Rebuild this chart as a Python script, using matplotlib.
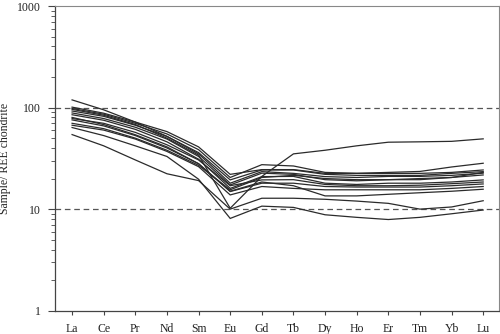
import matplotlib
matplotlib.use("Agg")
import matplotlib.pyplot as plt
from matplotlib.ticker import NullFormatter, FixedLocator

plt.rcParams['font.family'] = ['Liberation Serif', 'DejaVu Serif']

elements = ["La", "Ce", "Pr", "Nd", "Sm", "Eu", "Gd", "Tb", "Dy", "Ho", "Er", "Tm", "Yb", "Lu"]

# Chondrite-normalised REE patterns, one list per sample
s01 = [101, 88, 72, 58, 41, 22.0, 24.5, 24.5, 22.5, 22.5, 23.0, 23.5, 26.0, 28.3]
s02 = [98, 86, 70, 55, 38.5, 20.5, 27.4, 26.6, 23.0, 22.5, 22.5, 22.5, 23.0, 24.3]
s03 = [119, 95, 72, 52, 36, 19.4, 24.3, 24.3, 22.0, 21.5, 21.5, 21.5, 22.5, 23.4]
s04 = [92.5, 82, 67, 52, 35, 18.0, 23.4, 22.5, 20.9, 20.5, 21.0, 21.0, 21.5, 22.6]
s05 = [88.5, 78, 64, 49, 33, 17.3, 22.6, 22.0, 19.5, 19.0, 19.5, 20.0, 20.5, 21.7]
s06 = [85, 75, 61, 46, 31, 16.0, 20.9, 21.0, 18.0, 17.5, 18.0, 18.0, 18.5, 19.4]
s07 = [78, 70, 57, 43, 30.5, 17.0, 19.4, 19.5, 17.5, 17.0, 17.0, 17.2, 17.8, 18.5]
s08 = [75.6, 66, 53, 40, 28, 14.9, 18.0, 18.0, 16.7, 16.5, 16.5, 16.5, 17.0, 17.7]
s09 = [67, 60, 49, 37, 26.2, 13.8, 16.7, 16.0, 15.5, 15.5, 15.5, 15.5, 16.0, 16.7]
s10 = [80, 68, 54, 41, 28, 15.0, 18.5, 17.0, 13.5, 13.5, 14.0, 14.5, 15.0, 15.7]
s11 = [96, 84, 68, 50, 34, 10.2, 21.0, 35.0, 38.0, 42.0, 45.6, 46.0, 46.5, 49.2]
s12 = [54.2, 42, 30.5, 22.3, 19.1, 10.0, 12.8, 12.8, 12.5, 12.0, 11.4, 10.0, 10.5, 12.1]
s13 = [63.6, 53, 42, 33, 19.7, 8.1, 10.7, 10.4, 8.8, 8.3, 7.9, 8.3, 9.0, 9.8]
s14 = [70, 62, 50, 38, 27, 15.5, 20.5, 21.5, 20.0, 19.5, 19.5, 19.5, 20.5, 23.0]

samples = [s01, s02, s03, s04, s05, s06, s07, s08, s09, s10, s11, s12, s13, s14]
ref_levels = [10, 100]
y_major = [1, 10, 100, 1000]
y_major_labels = ["1", "10", "100", "1000"]

fig = plt.figure(figsize=(5.0, 3.34), dpi=100)
ax = fig.add_axes([0.11, 0.0698, 0.888, 0.9122])

x = list(range(1, len(elements) + 1))
for s in samples:
    ax.plot(x, s, color="#2b2b2b", lw=0.9, solid_joinstyle="miter")

for lv in ref_levels:
    ax.axhline(lv, color="#555555", lw=0.9, ls=(0, (4.5, 3)), zorder=0)

ax.set_yscale("log")
ax.set_ylim(1, 1000)
ax.set_xlim(0.46, 14.5)
ax.xaxis.set_major_locator(FixedLocator(x))
ax.set_xticklabels(elements)

minor_vals = [m * d for d in (1, 10, 100) for m in range(2, 10)]
ax.yaxis.set_major_locator(FixedLocator(y_major))
ax.set_yticklabels(y_major_labels)
ax.yaxis.set_minor_locator(FixedLocator(minor_vals))
ax.yaxis.set_minor_formatter(NullFormatter())

ax.tick_params(axis="y", which="major", length=5, width=0.8, color="#444444",
               labelsize=8.5, pad=5, labelcolor="#222222")
ax.tick_params(axis="y", which="minor", length=3, width=0.6, color="#444444")
ax.tick_params(axis="x", which="major", length=3, width=0.8, color="#444444",
               labelsize=8.5, pad=6, labelcolor="#222222")

for side in ["left", "bottom"]:
    ax.spines[side].set_color("#444444")
    ax.spines[side].set_linewidth(0.9)
for side in ["top", "right"]:
    ax.spines[side].set_color("#888888")
    ax.spines[side].set_linewidth(0.8)

ax.set_ylabel("Sample/ REE chondrite", fontsize=8.5, color="#222222")
ax.yaxis.set_label_coords(-0.100, 0.5)

fig.savefig("out.png", dpi=100)
